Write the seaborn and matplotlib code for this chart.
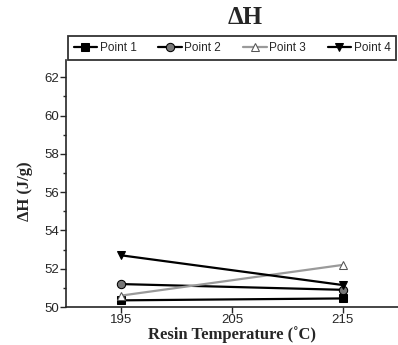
import matplotlib
matplotlib.use("Agg")
from matplotlib import pyplot as plt
from matplotlib.ticker import MultipleLocator
import pandas as pd
import seaborn as sns

sns.set_style("ticks")
plt.rcParams["font.family"] = ["Liberation Sans", "DejaVu Sans"]

# data
temps = [195, 215]
point1 = [50.35, 50.45]
point2 = [51.2, 50.9]
point3 = [50.6, 52.2]
point4 = [52.7, 51.15]
series_names = ["Point 1", "Point 2", "Point 3", "Point 4"]

df = pd.DataFrame({
    "temp": temps * 4,
    "dH": point1 + point2 + point3 + point4,
    "series": [n for n in series_names for _ in temps],
})

fig = plt.figure(figsize=(3.98, 3.45), dpi=100)
ax = fig.add_axes([0.166, 0.11, 0.834, 0.716])

styles = {
    "Point 1": dict(color="black", marker="s", mfc="black"),
    "Point 2": dict(color="black", marker="o", mfc="#777777"),
    "Point 3": dict(color="#9a9a9a", marker="^", mfc="white", mec="#555555"),
    "Point 4": dict(color="black", marker="v", mfc="black"),
}
for name in series_names:
    sub = df[df["series"] == name]
    st = styles[name]
    sns.lineplot(data=sub, x="temp", y="dH", ax=ax, color=st["color"], lw=1.6,
                 marker=st["marker"], markersize=6, markerfacecolor=st["mfc"],
                 markeredgecolor=st.get("mec", "black"), label=name)

ax.set_xlim(190, 220)
ax.set_ylim(50, 62.9)
ax.set_xticks([195, 205, 215])
ax.yaxis.set_major_locator(MultipleLocator(2))
ax.yaxis.set_minor_locator(MultipleLocator(1))
ax.tick_params(axis="both", which="major", direction="out", length=4, width=1,
               labelsize=9.5, pad=1)
ax.tick_params(axis="y", which="minor", direction="out", length=2, width=1)
for s in ["top", "right"]:
    ax.spines[s].set_visible(False)
for s in ["left", "bottom"]:
    ax.spines[s].set_linewidth(1.2)

serif = {"family": ["Liberation Serif", "DejaVu Serif"], "fontweight": "bold"}
ax.set_xlabel("Resin Temperature (\u02daC)", fontsize=12, labelpad=0, **serif)
ax.set_ylabel("\u0394H (J/g)", fontsize=12, **serif)
ax.yaxis.set_label_coords(-0.1, 0.47)

fig.text(0.615, 0.948, "\u0394H", ha="center", va="center", fontsize=18, **serif)

leg = ax.legend(loc="lower left", bbox_to_anchor=(0.005, 1.0, 0.99, 0.1), mode="expand",
                ncol=4, frameon=True, fancybox=False, edgecolor="black",
                fontsize=8.5, handlelength=2.0, handletextpad=0.2, columnspacing=0.1,
                borderaxespad=0, borderpad=0.5)
leg.get_frame().set_linewidth(1.3)

plt.savefig("out.png", dpi=100)
